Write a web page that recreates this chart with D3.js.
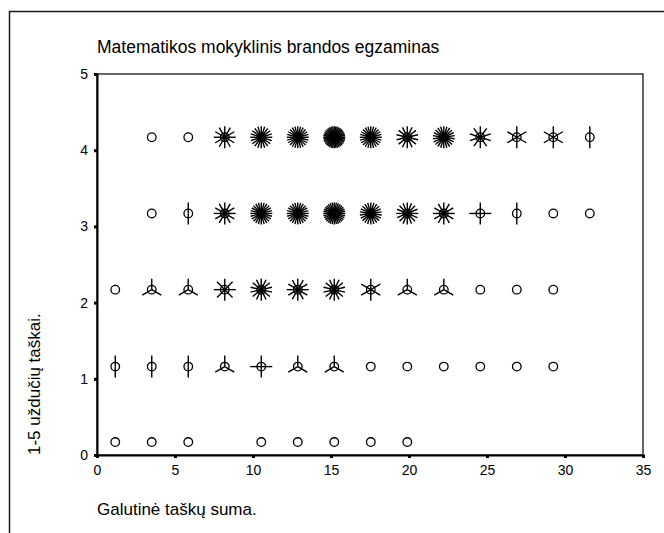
<!DOCTYPE html>
<html>
<head>
<meta charset="utf-8">
<script src="https://cdn.jsdelivr.net/npm/d3@7"></script>
<style>
  body { margin: 0; background: #fff; }
  text { font-family: Arial, "Liberation Sans", sans-serif; fill: #000; }
</style>
</head>
<body>
<div id="chart"></div>
<script>
// Sunflower bins: centres on each axis
const xCenters = [1.17, 3.51, 5.85, 8.19, 10.53, 12.87, 15.21, 17.55, 19.89, 22.23, 24.57, 26.91, 29.25, 31.59];
const yCenters = [0.17, 1.16, 2.17, 3.17, 4.17];

// number of cases in each bin, one row per y centre (0 = empty bin)
const row0 = [1, 1, 1, 0, 1, 1, 1, 1, 1, 0, 0, 0, 0, 0];
const row1 = [2, 2, 2, 3, 4, 3, 3, 1, 1, 1, 1, 1, 1, 0];
const row2 = [1, 3, 3, 8, 14, 12, 14, 6, 3, 3, 1, 1, 1, 0];
const row3 = [0, 1, 2, 12, 24, 24, 32, 22, 16, 12, 4, 2, 1, 1];
const row4 = [0, 1, 1, 12, 20, 24, 40, 24, 14, 22, 10, 6, 6, 2];
const rows = [row0, row1, row2, row3, row4];

const xTicks = [0, 5, 10, 15, 20, 25, 30, 35];
const yTicks = [0, 1, 2, 3, 4, 5];

const title = "Matematikos mokyklinis brandos egzaminas";
const xTitle = "Galutinė taškų suma.";
const yTitle = "1-5 uždučių taškai.";

const width = 664;
const height = 533;
const plot = { left: 97, right: 643, top: 74, bottom: 455 };

const svg = d3.select("#chart")
  .append("svg")
  .attr("width", width)
  .attr("height", height);

// outer frame (runs off the page on the right and bottom)
svg.append("rect")
  .attr("x", 9.5).attr("y", 11.5)
  .attr("width", 700).attr("height", 600)
  .attr("fill", "none")
  .attr("stroke", "#1a1a1a")
  .attr("stroke-width", 1.5);

const x = d3.scaleLinear().domain([0, 35]).range([plot.left, plot.right]);
const y = d3.scaleLinear().domain([0, 5]).range([plot.bottom, plot.top]);

// plot box
svg.append("rect")
  .attr("x", plot.left).attr("y", plot.top)
  .attr("width", plot.right - plot.left)
  .attr("height", plot.bottom - plot.top)
  .attr("fill", "none")
  .attr("stroke", "#000")
  .attr("stroke-width", 1.2);

const xAxis = svg.append("g")
  .attr("transform", `translate(0,${plot.bottom})`)
  .call(d3.axisBottom(x).tickValues(xTicks).tickFormat(d3.format("d")).tickSize(3).tickPadding(7));

const yAxis = svg.append("g")
  .attr("transform", `translate(${plot.left},0)`)
  .call(d3.axisLeft(y).tickValues(yTicks).tickFormat(d3.format("d")).tickSize(3).tickPadding(6));

[xAxis, yAxis].forEach(g => {
  g.select(".domain").attr("stroke", "#000").attr("stroke-width", 2);
  g.selectAll(".tick line").attr("stroke", "#000").attr("stroke-width", 3);
  g.selectAll(".tick text")
    .style("font-family", "Arial, 'Liberation Sans', sans-serif")
    .style("font-size", "14px");
});

// sunflowers
const cells = [];
rows.forEach((row, r) => {
  row.forEach((n, k) => {
    if (n > 0) cells.push({ x: xCenters[k], y: yCenters[r], n });
  });
});

const petalLength = 11;

const flower = svg.append("g")
  .selectAll("g")
  .data(cells)
  .join("g")
  .attr("transform", d => `translate(${x(d.x)},${y(d.y)})`);

flower.append("circle")
  .attr("r", 4.3)
  .attr("fill", "none")
  .attr("stroke", "#000")
  .attr("stroke-width", 1.3);

flower.filter(d => d.n > 1)
  .selectAll("line")
  .data(d => d3.range(d.n).map(i => (2 * Math.PI * i) / d.n))
  .join("line")
  .attr("x1", 0).attr("y1", 0)
  .attr("x2", a => petalLength * Math.sin(a))
  .attr("y2", a => -petalLength * Math.cos(a))
  .attr("stroke", "#000")
  .attr("stroke-width", 1.4);

// titles
svg.append("text")
  .attr("x", plot.left).attr("y", 53)
  .style("font-size", "17.5px")
  .text(title);

svg.append("text")
  .attr("x", plot.left).attr("y", 515)
  .style("font-size", "17px")
  .text(xTitle);

svg.append("text")
  .attr("transform", `translate(40,${plot.bottom}) rotate(-90)`)
  .style("font-size", "17px")
  .text(yTitle);
</script>
</body>
</html>
